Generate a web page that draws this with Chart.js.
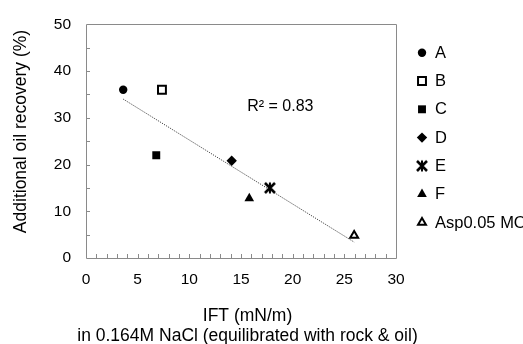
<!DOCTYPE html>
<html>
<head>
<meta charset="utf-8">
<script src="https://cdn.jsdelivr.net/npm/chart.js@4/dist/chart.umd.min.js"></script>
<style>
  html, body { margin: 0; padding: 0; background: #fff; }
  #wrap { width: 523px; height: 344px; }
</style>
</head>
<body>
<div id="wrap"><canvas id="c" width="523" height="344"></canvas></div>
<script>
// Samples: IFT (mN/m) vs additional oil recovery (%)
const sampleNames = ['A', 'B', 'C', 'D', 'E', 'F', 'Asp0.05 MO'];
const iftValues = [3.6, 7.35, 6.8, 14.1, 17.8, 15.8, 25.95];
const recoveryValues = [36.0, 36.0, 22.0, 20.8, 15.0, 12.75, 4.8];

// Linear trend line end points (IFT, recovery)
const trendX = [3.6, 25.95];
const trendY = [34.0, 3.4];
const trendLabel = 'R\u00B2 = 0.83';

const xTickValues = [0, 5, 10, 15, 20, 25, 30];
const yTickValues = [0, 10, 20, 30, 40, 50];

const FONT = '"Liberation Sans", Arial, sans-serif';
const AXIS_GREY = '#8a8a8a';

// Asterisk marker (X with a vertical bar)
function makeAsterisk() {
  const s = 14, c = document.createElement('canvas');
  c.width = s; c.height = s;
  const g = c.getContext('2d');
  g.strokeStyle = '#000'; g.lineWidth = 2.6; g.lineCap = 'butt';
  g.beginPath();
  g.moveTo(2, 2); g.lineTo(12, 12);
  g.moveTo(12, 2); g.lineTo(2, 12);
  g.stroke();
  g.lineWidth = 2;
  g.beginPath();
  g.moveTo(7, 1.5); g.lineTo(7, 12.5);
  g.stroke();
  return c;
}

const markerStyles = [
  { pointStyle: 'circle', radius: 4.2, bg: '#000', border: '#000', bw: 0 },
  { pointStyle: 'rect', radius: 5.6, bg: '#fff', border: '#000', bw: 2 },
  { pointStyle: 'rect', radius: 5.6, bg: '#000', border: '#000', bw: 0 },
  { pointStyle: 'rectRot', radius: 5.2, bg: '#000', border: '#000', bw: 0 },
  { pointStyle: makeAsterisk(), radius: 6, bg: '#000', border: '#000', bw: 0 },
  { pointStyle: 'triangle', radius: 5.6, bg: '#000', border: '#000', bw: 0 },
  { pointStyle: 'triangle', radius: 4.6, bg: '#fff', border: '#000', bw: 2 }
];

const datasets = sampleNames.map((name, i) => ({
  type: 'scatter',
  label: name,
  data: [{ x: iftValues[i], y: recoveryValues[i] }],
  pointStyle: markerStyles[i].pointStyle,
  pointRadius: markerStyles[i].radius,
  pointHoverRadius: markerStyles[i].radius,
  backgroundColor: markerStyles[i].bg,
  borderColor: markerStyles[i].border,
  borderWidth: markerStyles[i].bw,
  order: 1,
  isSample: true
}));

datasets.push({
  type: 'line',
  label: 'trend',
  data: trendX.map((x, i) => ({ x: x, y: trendY[i] })),
  borderColor: '#444',
  borderWidth: 1,
  borderDash: [1.2, 1.2],
  pointRadius: 0,
  fill: false,
  order: 2,
  isSample: false
});

// Frame, inward minor ticks, axis titles, legend and R² note
const decorations = {
  id: 'decorations',
  beforeDatasetsDraw(chart) {
    const { ctx, chartArea: a, scales } = chart;
    ctx.save();
    ctx.strokeStyle = AXIS_GREY;
    ctx.lineWidth = 1;
    ctx.beginPath();
    ctx.rect(Math.round(a.left) + 0.5, Math.round(a.top) + 0.5,
             Math.round(a.right - a.left), Math.round(a.bottom - a.top));
    ctx.stroke();
    ctx.beginPath();
    for (let v = scales.x.min + 1; v < scales.x.max; v += 1) {
      const px = Math.round(scales.x.getPixelForValue(v)) + 0.5;
      ctx.moveTo(px, a.bottom); ctx.lineTo(px, a.bottom - 4);
    }
    for (let v = scales.y.min + 5; v < scales.y.max; v += 5) {
      const py = Math.round(scales.y.getPixelForValue(v)) + 0.5;
      ctx.moveTo(a.left, py); ctx.lineTo(a.left + 4, py);
    }
    ctx.stroke();
    ctx.restore();
  },
  afterDraw(chart) {
    const { ctx, scales } = chart;
    ctx.save();
    ctx.fillStyle = '#000';

    // Axis titles
    ctx.font = '17.5px ' + FONT;
    ctx.textAlign = 'center';
    ctx.textBaseline = 'middle';
    ctx.fillText('IFT (mN/m)', 247.5, 316.5);
    ctx.fillText('in 0.164M NaCl (equilibrated with rock & oil)', 247.5, 336);
    ctx.save();
    ctx.translate(21.5, 131.5);
    ctx.rotate(-Math.PI / 2);
    ctx.fillText('Additional oil recovery (%)', 0, 0);
    ctx.restore();

    // Trend annotation
    ctx.font = '16px ' + FONT;
    ctx.textAlign = 'left';
    ctx.fillText(trendLabel, scales.x.getPixelForValue(15.6), scales.y.getPixelForValue(32.5));

    // Legend
    ctx.font = '16.5px ' + FONT;
    const rows = chart.data.datasets.filter(d => d.isSample);
    rows.forEach((d, i) => {
      const y = 52.7 + i * 28.3;
      ctx.fillStyle = d.backgroundColor;
      ctx.strokeStyle = d.borderColor;
      ctx.lineWidth = d.borderWidth;
      Chart.helpers.drawPoint(ctx, {
        pointStyle: d.pointStyle, radius: d.pointRadius, rotation: 0, borderWidth: d.borderWidth
      }, 422, y);
      ctx.fillStyle = '#000';
      ctx.fillText(d.label, 435, y + 0.5);
    });
    ctx.restore();
  }
};

new Chart(document.getElementById('c'), {
  data: { datasets: datasets },
  options: {
    responsive: false,
    animation: false,
    events: [],
    layout: { padding: { left: 0, right: 127, top: 20, bottom: 0 } },
    plugins: { legend: { display: false }, tooltip: { enabled: false } },
    scales: {
      x: {
        type: 'linear',
        min: 0, max: 30,
        afterFit(scale) { scale.height = 86; },
        afterBuildTicks(scale) { scale.ticks = xTickValues.map(v => ({ value: v })); },
        grid: { display: false, drawTicks: false },
        border: { display: false },
        ticks: { color: '#000', padding: 12, font: { family: FONT, size: 15.5 } }
      },
      y: {
        type: 'linear',
        min: 0, max: 50,
        afterFit(scale) { scale.width = 86; },
        afterBuildTicks(scale) { scale.ticks = yTickValues.map(v => ({ value: v })); },
        grid: { display: false, drawTicks: false },
        border: { display: false },
        ticks: { color: '#000', padding: 15, font: { family: FONT, size: 15.5 } }
      }
    }
  },
  plugins: [decorations]
});
</script>
</body>
</html>
